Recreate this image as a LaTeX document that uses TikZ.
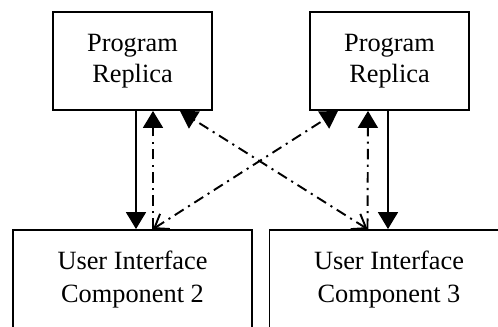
\documentclass[tikz,border=0pt]{standalone}
\usepackage{fontspec}
\setmainfont{Liberation Serif}
\usetikzlibrary{arrows.meta,calc}

\tikzset{
  replica/.style={draw, line width=1.1pt, fill=white, align=center,
    minimum width=3.18cm, minimum height=1.96cm,
    font=\fontsize{15}{17.5}\selectfont},
  uibox/.style={replica, minimum width=4.78cm, minimum height=2cm,
    font=\fontsize{15}{18.8}\selectfont},
  head/.style={-{Triangle[length=0.34cm,width=0.4cm]}},
  call/.style={line width=1.1pt, head},
  reply/.style={line width=1.1pt, dash pattern=on 6pt off 3pt on 1.2pt off 3pt},
}

\begin{document}
\begin{tikzpicture}[x=0.02cm,y=-0.02cm]
  \clip (0,0) rectangle (498,327);
  \fill[white] (0,0) rectangle (498,327);

  \node[replica] (pr2) at (132.5,61) {Program\\Replica};
  \node[replica] (pr3) at (389.5,61) {Program\\Replica};
  \node[uibox] (ui2) at (132.5,280) {User Interface\\Component 2};
  \node[uibox] (ui3) at (389,280) {User Interface\\Component 3};

  % requests down to the components
  \draw[call] ($(pr2.south)+(3.5,0)$) -- ($(ui2.north)+(3.5,0)$);
  \draw[call] ($(pr3.south)+(-1.5,0)$) -- ($(ui3.north)+(-1,0)$);

  % updates back up to the replicas
  \draw[reply, head]
    ($(ui2.north)+(20.5,0)$) -- ($(pr2.south)+(20.5,0)$);
  \draw[reply, head]
    ($(ui3.north)+(-21.5,0)$) -- ($(pr3.south)+(-21.5,0)$);
  \draw[reply, {Straight Barb[length=0.25cm,width=0.36cm]}-{Triangle[length=0.34cm,width=0.4cm]}]
    ($(ui2.north)+(20.5,0)$) -- ($(pr3.south)+(-51.5,0)$);
  \draw[reply, {Straight Barb[length=0.25cm,width=0.36cm]}-{Triangle[length=0.34cm,width=0.4cm]}]
    ($(ui3.north)+(-21.5,0)$) -- ($(pr2.south)+(47.5,0)$);
\end{tikzpicture}
\end{document}
